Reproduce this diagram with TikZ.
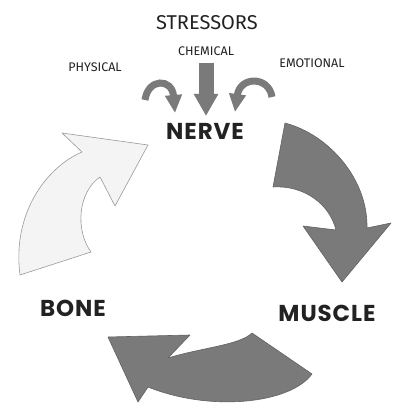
\documentclass[tikz,border=0pt]{standalone}
\usepackage{fontspec}
\usepackage{xcolor}
\usepackage{tikz}
\usetikzlibrary{positioning,arrows.meta,calc}
\newfontfamily\organfont[LetterSpace=4]{Poppins}
\newfontfamily\stressfont{Fira Sans}
\definecolor{arrdark}{HTML}{7A7A7A}
\definecolor{arrlight}{HTML}{F4F4F4}
\definecolor{inkdark}{HTML}{222222}

\begin{document}
\begin{tikzpicture}[x=1pt,y=-1pt,
		organ/.style={font=\organfont\bfseries\fontsize{23}{23}\selectfont,text=inkdark,inner sep=0pt},
		strtitle/.style={font=\stressfont\fontsize{20}{20}\selectfont,text=inkdark,inner sep=0pt},
		strlabel/.style={font=\stressfont\fontsize{12.5}{12.5}\selectfont,text=inkdark,inner sep=0pt},
		bigdark/.style={fill=arrdark,draw=arrdark!80!black,line width=0.6pt,line join=round},
		biglight/.style={fill=arrlight,draw=gray!80,line width=0.6pt,line join=round},
		small/.style={draw=arrdark,line width=7pt,-{Triangle[width=16pt,length=18pt]}}]
		\useasboundingbox (0,0) rectangle (392,406);
		% labels
		\node[strtitle] (stress) at (207,23)  {STRESSORS};
		\node[strlabel] (chem)   at (206,51)  {CHEMICAL};
		\node[strlabel] (phys)   at (95,67)   {PHYSICAL};
		\node[strlabel] (emo)    at (312,63)  {EMOTIONAL};
		\node[organ]    (nerve)  at (205,131) {NERVE};
		\node[organ]    (bone)   at (73,308)  {BONE};
		\node[organ]    (muscle) at (327,313) {MUSCLE};
		% stressor arrows
		\draw[small] (145,100) .. controls (148,78) and (172,78) .. (175,113);
		\draw[small,line width=15pt,-{Triangle[width=23pt,length=22pt]}] (206,63) -- (206,116);
		\draw[small] (272,97) .. controls (269,76) and (240,76) .. (235,112);
		% cycle arrows
		\draw[biglight] (20,275) -- (91,252) .. controls (75,230) and (78,192) .. (100,177)
			-- (115,206) -- (148,145) -- (62,133) -- (82,152)
			.. controls (45,168) and (12,215) .. (20,275) -- cycle;
		\draw[bigdark] (285,123) .. controls (330,135) and (368,180) .. (367,228)
			-- (391,223) -- (342,282) -- (303,226) -- (336,230)
			.. controls (330,205) and (305,185) .. (273,187) -- cycle;
		\draw[bigdark] (252,333) -- (312,374) .. controls (290,404) and (210,412) .. (148,387)
			-- (138,402) -- (108,337) -- (190,335) -- (168,358)
			.. controls (200,348) and (240,345) .. (252,333) -- cycle;
	\end{tikzpicture}
\end{document}
